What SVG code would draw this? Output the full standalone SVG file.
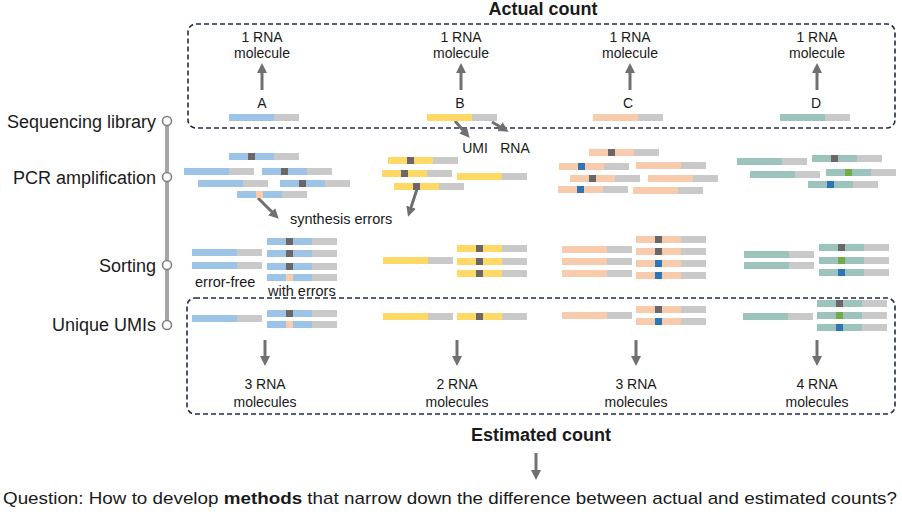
<svg xmlns="http://www.w3.org/2000/svg" xmlns:xlink="http://www.w3.org/1999/xlink" width="902" height="514" viewBox="0 0 902 514">
<style>
text{font-family:"Liberation Sans",Arial,sans-serif;fill:#1a1a1a}
.lab{font-size:18px;text-anchor:end}
.col{font-size:14px;text-anchor:middle}
.sm{font-size:14.5px}
.ttl{font-size:18px;font-weight:bold;text-anchor:middle}
.box{fill:none;stroke:#1f2b4a;stroke-width:1.6;stroke-dasharray:5 3}
.arr{stroke:#707070;stroke-width:3;fill:none;marker-end:url(#ah)}
.tl{stroke:#a6a6a6;stroke-width:4}
.dot{fill:#fff;stroke:#7f7f7f;stroke-width:1.6}
</style>
<defs>
<marker id="ah" viewBox="0 0 10 10" refX="3" refY="5" markerWidth="10" markerHeight="10" markerUnits="userSpaceOnUse" orient="auto"><path d="M0,0L10,5L0,10z" fill="#707070"/></marker>
<g id="bB"><rect width="45" height="7" fill="#9dc3e6"/><rect x="45" width="25" height="7" fill="#c9c9c9"/></g>
<g id="bY"><rect width="45" height="7" fill="#ffd966"/><rect x="45" width="25" height="7" fill="#c9c9c9"/></g>
<g id="bP"><rect width="45" height="7" fill="#f8cbad"/><rect x="45" width="25" height="7" fill="#c9c9c9"/></g>
<g id="bT"><rect width="45" height="7" fill="#9cc4bd"/><rect x="45" width="25" height="7" fill="#c9c9c9"/></g>
<rect id="mD" x="19" width="7" height="7" fill="#6b6767"/>
<rect id="mB" x="19" width="7" height="7" fill="#2e75b6"/>
<rect id="mG" x="19" width="7" height="7" fill="#70ad47"/>
<rect id="mP" x="19" width="7" height="7" fill="#f8cbad"/>
</defs>
<rect width="902" height="514" fill="#fff"/>

<g id="titles">
<text class="ttl" x="543" y="15">Actual count</text>
<text class="ttl" x="541" y="441">Estimated count</text>
<text x="3" y="504" font-size="17" textLength="894" lengthAdjust="spacingAndGlyphs">Question: How to develop <tspan font-weight="bold">methods</tspan> that narrow down the difference between actual and estimated counts?</text>
</g>

<g id="boxes">
<rect class="box" x="188" y="24" width="707" height="104" rx="8"/>
<rect class="box" x="187" y="298" width="708" height="116" rx="8"/>
</g>

<g id="timeline">
<line class="tl" x1="167" y1="121" x2="167" y2="325"/>
<g id="step-seq"><circle class="dot" cx="167" cy="121" r="4.5"/><text class="lab" x="156" y="128">Sequencing library</text></g>
<g id="step-pcr"><circle class="dot" cx="167" cy="177" r="4.5"/><text class="lab" x="156" y="184">PCR amplification</text></g>
<g id="step-sort"><circle class="dot" cx="167" cy="265" r="4.5"/><text class="lab" x="156" y="272">Sorting</text></g>
<g id="step-umi"><circle class="dot" cx="167" cy="325" r="4.5"/><text class="lab" x="156" y="331">Unique UMIs</text></g>
</g>

<g id="connectors">
<line class="arr" x1="262" y1="90" x2="262" y2="70"/>
<line class="arr" x1="461" y1="90" x2="461" y2="70"/>
<line class="arr" x1="630" y1="90" x2="630" y2="70"/>
<line class="arr" x1="817" y1="90" x2="817" y2="70"/>
<line class="arr" x1="455" y1="121" x2="465" y2="132.4"/>
<line class="arr" x1="492" y1="122" x2="502.6" y2="128.2"/>
<line class="arr" x1="258" y1="198" x2="273.8" y2="213.8"/>
<line class="arr" x1="417" y1="189" x2="410.2" y2="210"/>
<line class="arr" x1="265" y1="340" x2="265" y2="359"/>
<line class="arr" x1="457" y1="340" x2="457" y2="359"/>
<line class="arr" x1="636" y1="340" x2="636" y2="359"/>
<line class="arr" x1="817" y1="340" x2="817" y2="359"/>
<line class="arr" x1="536" y1="453" x2="536" y2="473"/>
</g>

<g id="col-A">
<text class="col" x="262" y="42">1 RNA</text><text class="col" x="262" y="58">molecule</text>
<text class="col" x="262" y="108">A</text>
<use href="#bB" x="229" y="114"/>
<use href="#bB" x="229" y="153"/><use href="#mD" x="229" y="153"/>
<use href="#bB" x="184" y="168"/>
<use href="#bB" x="262" y="168"/><use href="#mD" x="262" y="168"/>
<use href="#bB" x="198" y="180"/>
<use href="#bB" x="280" y="180"/><use href="#mD" x="280" y="180"/>
<use href="#bB" x="237" y="191"/><use href="#mP" x="237" y="191"/>
<use href="#bB" x="192" y="249"/>
<use href="#bB" x="192" y="262"/>
<use href="#bB" x="267" y="238"/><use href="#mD" x="267" y="238"/>
<use href="#bB" x="267" y="250"/><use href="#mD" x="267" y="250"/>
<use href="#bB" x="267" y="263"/><use href="#mD" x="267" y="263"/>
<use href="#bB" x="267" y="274"/><use href="#mP" x="267" y="274"/>
<text class="sm" x="195" y="287">error-free</text>
<text class="sm" x="268" y="296">with errors</text>
<use href="#bB" x="192" y="315"/>
<use href="#bB" x="267" y="310"/><use href="#mD" x="267" y="310"/>
<use href="#bB" x="267" y="321"/><use href="#mP" x="267" y="321"/>
<text class="col" x="265" y="389">3 RNA</text><text class="col" x="265" y="407">molecules</text>
</g>

<g id="col-B">
<text class="col" x="461" y="42">1 RNA</text><text class="col" x="461" y="58">molecule</text>
<text class="col" x="460" y="108">B</text>
<use href="#bY" x="427" y="114"/>
<text class="col" x="475" y="153">UMI</text>
<text class="col" x="515" y="153">RNA</text>
<use href="#bY" x="388" y="157"/><use href="#mD" x="388" y="157"/>
<use href="#bY" x="382" y="170"/><use href="#mD" x="382" y="170"/>
<use href="#bY" x="457" y="173"/>
<use href="#bY" x="394" y="183"/><use href="#mD" x="394" y="183"/>
<text class="sm" x="290" y="224">synthesis errors</text>
<use href="#bY" x="383" y="257"/>
<use href="#bY" x="457" y="245"/><use href="#mD" x="457" y="245"/>
<use href="#bY" x="457" y="258"/><use href="#mD" x="457" y="258"/>
<use href="#bY" x="457" y="270"/><use href="#mD" x="457" y="270"/>
<use href="#bY" x="383" y="313"/>
<use href="#bY" x="457" y="313"/><use href="#mD" x="457" y="313"/>
<text class="col" x="457" y="389">2 RNA</text><text class="col" x="457" y="407">molecules</text>
</g>

<g id="col-C">
<text class="col" x="630" y="42">1 RNA</text><text class="col" x="630" y="58">molecule</text>
<text class="col" x="628" y="108">C</text>
<use href="#bP" x="593" y="114"/>
<use href="#bP" x="589" y="149"/><use href="#mD" x="589" y="149"/>
<use href="#bP" x="559" y="163"/><use href="#mB" x="559" y="163"/>
<use href="#bP" x="636" y="162"/>
<use href="#bP" x="570" y="175"/><use href="#mD" x="570" y="175"/>
<use href="#bP" x="648" y="175"/>
<use href="#bP" x="558" y="186"/><use href="#mB" x="558" y="186"/>
<use href="#bP" x="633" y="187"/>
<use href="#bP" x="562" y="246"/>
<use href="#bP" x="562" y="258"/>
<use href="#bP" x="562" y="270"/>
<use href="#bP" x="636" y="236"/><use href="#mD" x="636" y="236"/>
<use href="#bP" x="636" y="248"/><use href="#mD" x="636" y="248"/>
<use href="#bP" x="636" y="260"/><use href="#mB" x="636" y="260"/>
<use href="#bP" x="636" y="272"/><use href="#mB" x="636" y="272"/>
<use href="#bP" x="562" y="312"/>
<use href="#bP" x="636" y="306"/><use href="#mD" x="636" y="306"/>
<use href="#bP" x="636" y="318"/><use href="#mB" x="636" y="318"/>
<text class="col" x="636" y="389">3 RNA</text><text class="col" x="636" y="407">molecules</text>
</g>

<g id="col-D">
<text class="col" x="817" y="42">1 RNA</text><text class="col" x="817" y="58">molecule</text>
<text class="col" x="816" y="108">D</text>
<use href="#bT" x="780" y="114"/>
<use href="#bT" x="737" y="158"/>
<use href="#bT" x="812" y="155"/><use href="#mD" x="812" y="155"/>
<use href="#bT" x="750" y="171"/>
<use href="#bT" x="826" y="169"/><use href="#mG" x="826" y="169"/>
<use href="#bT" x="808" y="181"/><use href="#mB" x="808" y="181"/>
<use href="#bT" x="744" y="251"/>
<use href="#bT" x="744" y="262"/>
<use href="#bT" x="819" y="244"/><use href="#mD" x="819" y="244"/>
<use href="#bT" x="819" y="257"/><use href="#mG" x="819" y="257"/>
<use href="#bT" x="819" y="269"/><use href="#mB" x="819" y="269"/>
<use href="#bT" x="743" y="313"/>
<use href="#bT" x="817" y="300"/><use href="#mD" x="817" y="300"/>
<use href="#bT" x="817" y="312"/><use href="#mG" x="817" y="312"/>
<use href="#bT" x="817" y="324"/><use href="#mB" x="817" y="324"/>
<text class="col" x="817" y="389">4 RNA</text><text class="col" x="817" y="407">molecules</text>
</g>
</svg>
